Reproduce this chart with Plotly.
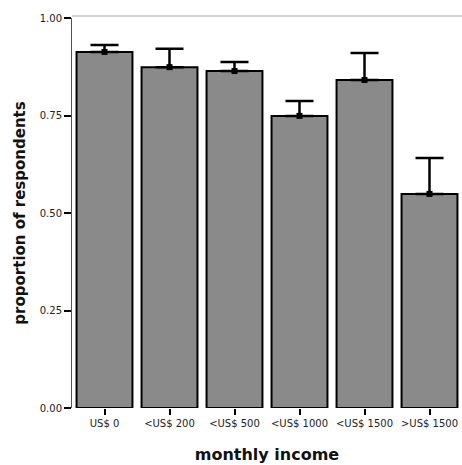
import plotly.graph_objects as go

categories = ["US$ 0", "<US$ 200", "<US$ 500", "<US$ 1000", "<US$ 1500", ">US$ 1500"]
proportions = [0.913, 0.874, 0.864, 0.749, 0.841, 0.549]
error_upper = [0.018, 0.047, 0.023, 0.038, 0.069, 0.092]
y_tick_vals = [0.0, 0.25, 0.5, 0.75, 1.0]
y_tick_text = ["0.00", "0.25", "0.50", "0.75", "1.00"]

FONT = "DejaVu Sans, Liberation Sans, Arial, sans-serif"

fig = go.Figure()
fig.add_trace(go.Bar(
    x=categories, y=proportions,
    marker=dict(color="#8a8a8a", line=dict(color="black", width=2)),
    error_y=dict(type="data", symmetric=False, array=error_upper,
                 arrayminus=[0] * len(error_upper),
                 color="black", thickness=2.5, width=14),
    showlegend=False,
))
fig.add_trace(go.Scatter(
    x=categories, y=proportions, mode="markers",
    marker=dict(symbol="square", size=6, color="black"),
    showlegend=False, hoverinfo="skip",
))

fig.update_layout(
    width=462, height=465,
    margin=dict(l=72, r=0, t=18, b=57),
    paper_bgcolor="white", plot_bgcolor="white",
    bargap=0.14,
    font=dict(family=FONT, color="#222"),
    shapes=[dict(type="line", xref="paper", yref="paper", x0=0, x1=1, y0=1.005, y1=1.005,
                 line=dict(color="#c4c4c4", width=1.5))],
)
fig.update_xaxes(
    showgrid=False, showline=False, zeroline=False, automargin=False,
    ticks="outside", ticklen=6, tickwidth=2, tickcolor="black",
    tickfont=dict(size=10, color="#222", family=FONT),
    title=dict(text="<b>monthly income</b>", font=dict(size=16, color="#111", family=FONT), standoff=20),
    range=[-0.5, 5.5],
)
fig.update_yaxes(
    range=[0, 1.0], showgrid=False, zeroline=False, automargin=False,
    showline=True, linecolor="#555", linewidth=1,
    ticks="outside", ticklen=7, tickwidth=2, tickcolor="black",
    tickvals=y_tick_vals, ticktext=y_tick_text,
    tickfont=dict(size=10, color="#222", family=FONT),
    title=dict(text="<b>proportion of respondents</b>", font=dict(size=15, color="#111", family=FONT), standoff=10),
)

fig.write_html(
    "out.html",
    config={"displayModeBar": False},
    post_script="document.body.style.margin='0';document.body.style.overflow='hidden';",
)
